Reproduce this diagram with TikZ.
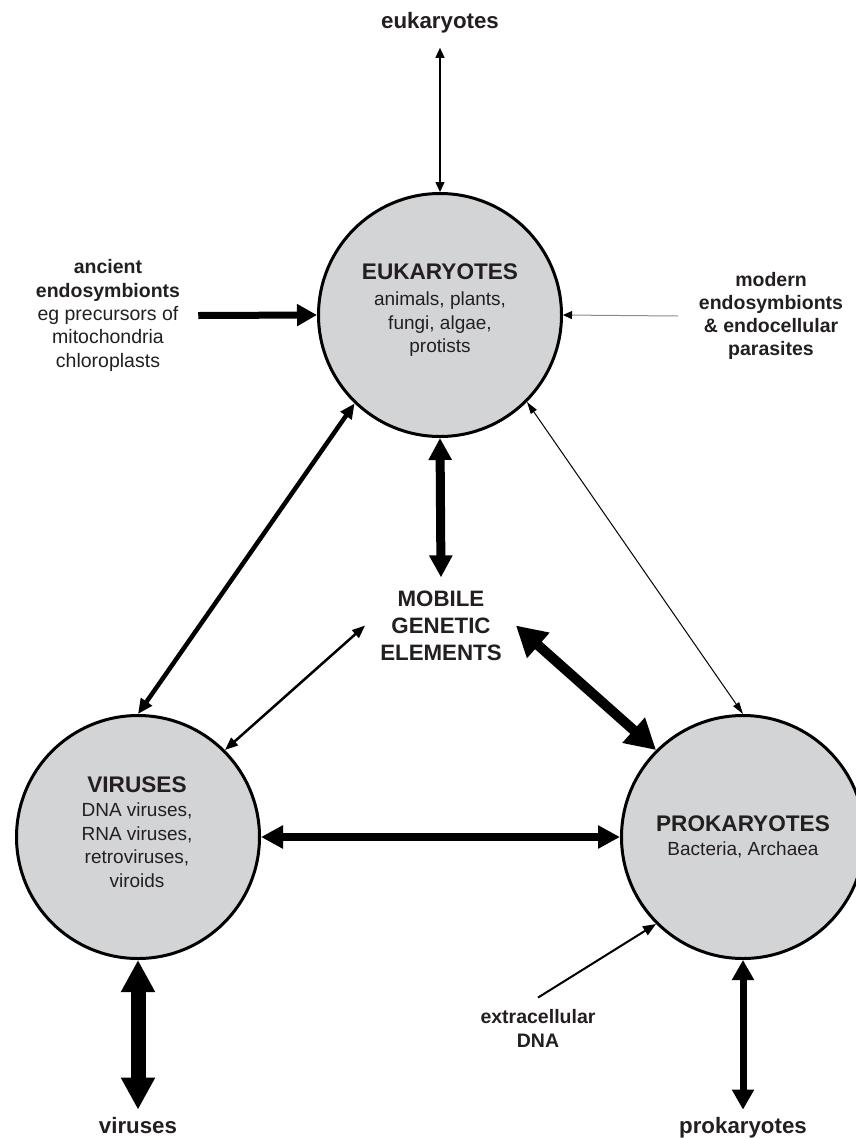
\documentclass[tikz,border=0pt]{standalone}
\usepackage{fontspec}
\setmainfont{Liberation Sans}
\usetikzlibrary{arrows.meta}
\definecolor{cfill}{HTML}{D3D4D6}
\definecolor{tcol}{HTML}{231F20}
\definecolor{lgray}{HTML}{8C8C8C}
\begin{document}
\begin{tikzpicture}[x=1pt,y=-1pt,
 cell/.style={circle, draw=black, line width=3pt, fill=cfill, minimum size=243pt, inner sep=0pt},
 ctxt/.style={align=center, inner sep=0pt, text=tcol, font=\fontsize{19}{23.5}\selectfont},
 big/.style={align=center, inner sep=0pt, text=tcol, font=\fontsize{22.3}{27}\selectfont\bfseries},
 side/.style={align=center, inner sep=0pt, text=tcol, font=\fontsize{19.5}{23.3}\selectfont},
 sideb/.style={align=center, inner sep=0pt, text=tcol, font=\fontsize{19.5}{23.3}\selectfont\bfseries},
 dbl/.style n args={3}{line width=#1pt, arrows={Triangle[width=#2pt,length=#3pt]-Triangle[width=#2pt,length=#3pt]}},
 one/.style n args={3}{line width=#1pt, arrows={-Triangle[width=#2pt,length=#3pt]}}
]
\path[use as bounding box, fill=white] (0,0) rectangle (856,1138);
\clip (0,0) rectangle (856,1138);

% cells
\node[cell] (euk) at (440,315) {};
\node[cell] (vir) at (138,837) {};
\node[cell] (prok) at (743,837) {};

\node[ctxt] (eukt) at (440,310.5) {{\fontsize{22.6}{26}\selectfont\bfseries EUKARYOTES}\\[2.5pt] animals, plants,\\ fungi, algae,\\ protists};
\node[ctxt] (virt) at (137,832) {{\fontsize{22.6}{26}\selectfont\bfseries VIRUSES}\\[0.5pt] DNA viruses,\\ RNA viruses,\\ retroviruses,\\ viroids};
\node[ctxt] (prokt) at (743,837) {{\fontsize{22.6}{26}\selectfont\bfseries PROKARYOTES}\\[0.5pt] Bacteria, Archaea};

% labels
\node[big] (mge) at (441,625.5) {MOBILE\\ GENETIC\\ ELEMENTS};
\node[big, anchor=base] (eukl) at (440,28) {eukaryotes};
\node[big, anchor=base] (virl) at (138,1133) {viruses};
\node[big, anchor=base] (prokl) at (743,1133) {prokaryotes};
\node[side] (ancl) at (108,315.5) {\textbf{ancient}\\ \textbf{endosymbionts}\\ eg precursors of\\ mitochondria\\ chloroplasts};
\node[sideb] (modl) at (771,316) {modern\\ endosymbionts\\ \& endocellular\\ parasites};
\node[sideb] (extl) at (538,1028.5) {extracellular\\ DNA};

% connectors
\draw[dbl={1.5}{9}{10}] (euk.north) -- ([yshift=-15pt]eukl.south);
\draw[one={7}{21}{20}] ([xshift=18pt]ancl.east) -- (euk.west);
\draw[draw=lgray, line width=1pt, arrows={-Triangle[width=8pt,length=9pt,color=black]}] ([xshift=-21pt]modl.west) -- (euk.east);
\draw[dbl={4.5}{13}{15}] (euk.226) -- (vir.north);
\draw[dbl={1}{7}{12}] (euk.315) -- (prok.north);
\draw[dbl={9}{22}{22}] (euk.south) -- ([yshift=13pt]mge.north);
\draw[dbl={2.5}{10}{13}] ([xshift=-15pt]mge.west) -- (vir.45);
\draw[dbl={10}{32}{30}] ([xshift=14pt]mge.east) -- (prok.135);
\draw[dbl={7.5}{22}{22}] (vir.east) -- (prok.west);
\draw[dbl={15}{32}{32}] (vir.south) -- ([yshift=7pt]virl.north);
\draw[dbl={7}{21}{20}] (prok.south) -- ([yshift=7pt]prokl.north);
\draw[one={2}{10}{13}] ([yshift=12pt]extl.north) -- (prok.225);
\end{tikzpicture}
\end{document}
